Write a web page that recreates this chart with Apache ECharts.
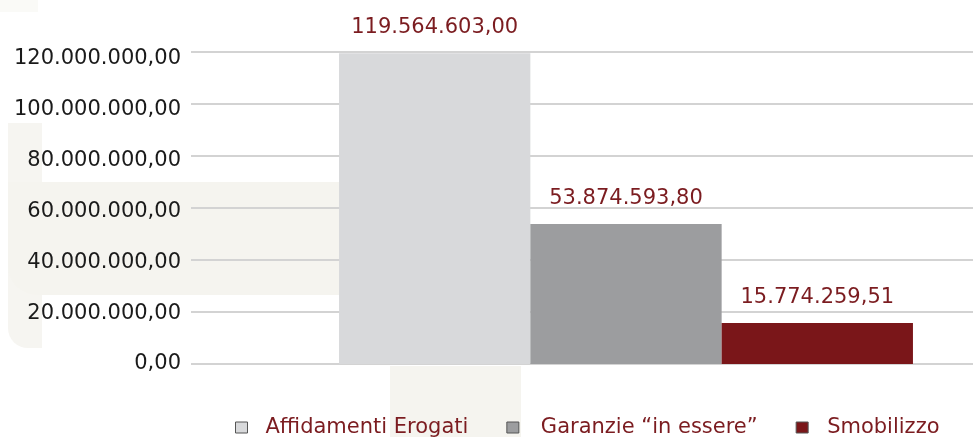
<!DOCTYPE html>
<html>
<head>
<meta charset="utf-8">
<script src="https://cdn.jsdelivr.net/npm/echarts@6/dist/echarts.min.js"></script>
<style>html,body{margin:0;padding:0;background:#fff}#c{width:973px;height:437px}</style>
</head>
<body>
<div id="c"></div>
<script>
const categories = [''];
const seriesNames = ['Affidamenti Erogati', 'Garanzie \u201cin essere\u201d', 'Smobilizzo'];
const affidamentiErogati = [119564603.00];
const garanzieInEssere = [53874593.80];
const smobilizzo = [15774259.51];
const yTicks = [0, 20000000, 40000000, 60000000, 80000000, 100000000, 120000000];

const colors = ['#d8d9db', '#9c9d9f', '#7a1619'];
const labelColor = '#7b1c20';

function fmtIt(v) {
  const neg = v < 0; v = Math.abs(v);
  const fixed = v.toFixed(2);
  const parts = fixed.split('.');
  const intPart = parts[0].replace(/\B(?=(\d{3})+(?!\d))/g, '.');
  return (neg ? '-' : '') + intPart + ',' + parts[1];
}

const yMax = yTicks[yTicks.length - 1];
const yStep = yTicks[1] - yTicks[0];

const chart = echarts.init(document.getElementById('c'));
const seriesData = [affidamentiErogati, garanzieInEssere, smobilizzo];
const legendText = [
  { padding: [0, 0, 0, 13] },
  { padding: [0, 0, 0, 17], width: 223 },
  { padding: [0, 0, 0, 14] }
];

chart.setOption({
  backgroundColor: '#ffffff',
  animation: false,
  textStyle: { fontFamily: 'DejaVu Sans' },
  graphic: [
    { type: 'rect', z: -10, silent: true, shape: { x: 8, y: 123, width: 34, height: 225, r: [0,0,0,20] }, style: { fill: '#f6f5f1' } },
    { type: 'rect', z: -10, silent: true, shape: { x: 8, y: 182, width: 335, height: 113, r: [0,0,0,30] }, style: { fill: '#f5f4ef' } },
    { type: 'rect', z: -10, silent: true, shape: { x: 390, y: 366, width: 131, height: 71 }, style: { fill: '#f5f4ef' } },
    { type: 'rect', z: -10, silent: true, shape: { x: 0, y: 0, width: 38, height: 12 }, style: { fill: '#fafaf7' } }
  ],
  grid: [
    { left: 191, right: 0, top: 52, bottom: 73 },
    { left: 279, right: 0, top: 52, bottom: 73 }
  ],
  legend: {
    data: seriesNames.map(function (n, i) {
      return { name: n, textStyle: legendText[i] };
    }),
    left: 230,
    top: 412,
    icon: 'rect',
    itemWidth: 12,
    itemHeight: 11,
    itemGap: 38,
    itemStyle: { borderColor: '#555555', borderWidth: 1 },
    textStyle: { fontFamily: 'DejaVu Sans', fontSize: 21, color: labelColor, padding: [0, 0, 0, 13] }
  },
  xAxis: [
    {
      type: 'category', gridIndex: 0, data: categories,
      axisLine: { show: false }, axisTick: { show: false }, axisLabel: { show: false }
    },
    {
      type: 'category', gridIndex: 1, data: categories,
      axisLine: { show: false }, axisTick: { show: false }, axisLabel: { show: false }
    }
  ],
  yAxis: [
    {
      type: 'value', gridIndex: 0, min: 0, max: yMax, interval: yStep,
      axisLine: { show: false }, axisTick: { show: false }, axisLabel: { show: false },
      splitLine: { show: true, lineStyle: { color: '#d3d3d3', width: 2 } }
    },
    {
      type: 'value', gridIndex: 0, position: 'left', min: 0, max: yMax * 312 / 305, interval: yStep,
      axisLine: { show: false }, axisTick: { show: false }, splitLine: { show: false },
      axisLabel: {
        margin: 10, fontFamily: 'DejaVu Sans', fontSize: 21, color: '#1a1a1a',
        formatter: function (v) { return yTicks.indexOf(v) >= 0 ? fmtIt(v) : ''; }
      }
    },
    {
      type: 'value', gridIndex: 1, min: 0, max: yMax, interval: yStep,
      axisLine: { show: false }, axisTick: { show: false }, axisLabel: { show: false },
      splitLine: { show: false }
    }
  ],
  series: seriesNames.map(function (name, i) {
    return {
      name: name,
      type: 'bar',
      xAxisIndex: 1,
      yAxisIndex: 2,
      data: seriesData[i],
      barWidth: 191.3,
      barGap: '0%',
      itemStyle: { color: colors[i] },
      label: {
        show: true,
        position: 'top',
        distance: 15,
        fontFamily: 'DejaVu Sans',
        fontSize: 21,
        color: labelColor,
        formatter: function (p) { return fmtIt(p.value); }
      }
    };
  })
});
</script>
</body>
</html>
